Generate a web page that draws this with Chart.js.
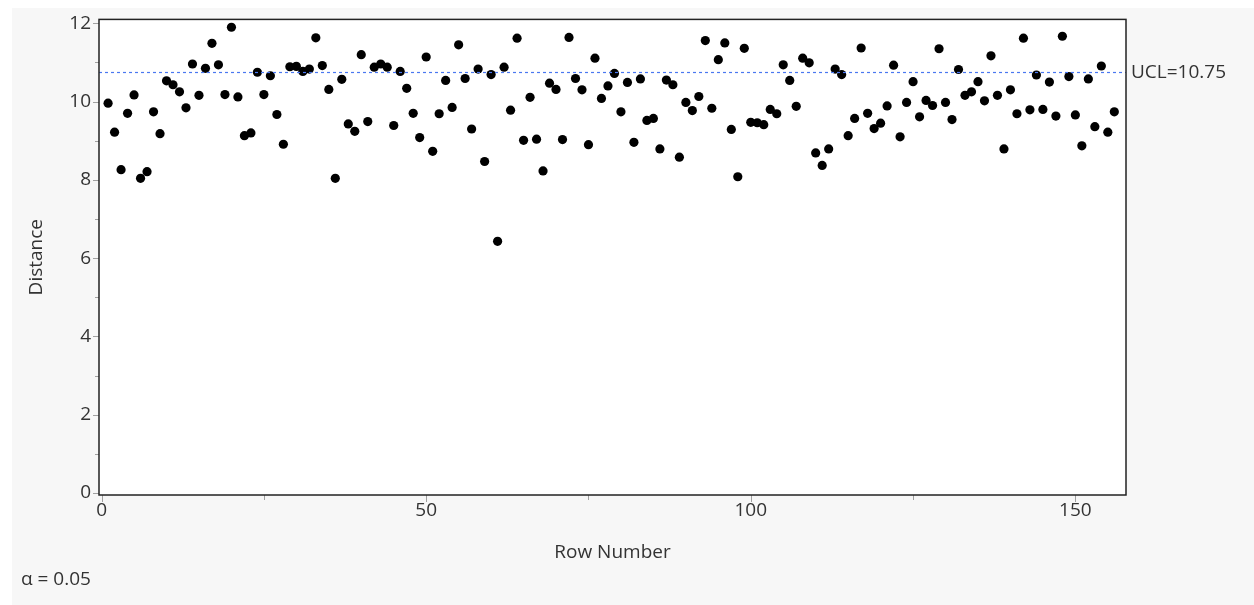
<!DOCTYPE html>
<html>
<head>
<meta charset="utf-8">
<script src="https://cdn.jsdelivr.net/npm/chart.js@4/dist/chart.umd.min.js"></script>
<style>
  body { margin: 0; background: #ffffff; }
  #chart { display: block; }
</style>
</head>
<body>
<canvas id="chart" width="1254" height="605"></canvas>
<script>
// distance by row number (rows 1..156)
let distance = [
  9.96, 9.22, 8.26, 9.70, 10.17, 8.04, 8.21, 9.74, 9.18, 10.53,
  10.43, 10.25, 9.84, 10.96, 10.16, 10.85, 11.49, 10.94, 10.18, 11.90,
  10.12, 9.13, 9.20, 10.75, 10.18, 10.66, 9.67, 8.91, 10.89, 10.90,
  10.77, 10.83, 11.63, 10.92, 10.31, 8.04, 10.57, 9.43, 9.24, 11.20,
  9.49, 10.88, 10.96, 10.88, 9.39, 10.77, 10.34, 9.70, 9.08, 11.14,
  8.73, 9.69, 10.54, 9.85, 11.45, 10.59, 9.30, 10.83, 8.47, 10.69,
  6.43, 10.88, 9.78, 11.62, 9.01, 10.11, 9.04, 8.23, 10.47, 10.31,
  9.03, 11.64, 10.59, 10.30, 8.90, 11.11, 10.08, 10.40, 10.72, 9.74,
  10.49, 8.96, 10.58, 9.52, 9.57, 8.79, 10.55, 10.43, 8.58, 9.98,
  9.77, 10.13, 11.56, 9.83, 11.07, 11.50, 9.29, 8.08, 11.36, 9.47,
  9.46, 9.41, 9.80, 9.69, 10.94, 10.54, 9.88, 11.11, 10.99, 8.69,
  8.37, 8.79, 10.83, 10.69, 9.13, 9.57, 11.37, 9.70, 9.31, 9.45,
  9.89, 10.93, 9.10, 9.98, 10.51, 9.61, 10.03, 9.90, 11.35, 9.98,
  9.54, 10.82, 10.16, 10.25, 10.51, 10.02, 11.17, 10.16, 8.79, 10.30,
  9.69, 11.62, 9.79, 10.68, 9.80, 10.50, 9.63, 11.67, 10.64, 9.66,
  8.87, 10.58, 9.36, 10.91, 9.22, 9.74
];
let ucl = 10.75;
let alpha = "α = 0.05";

let xMajor = [0, 50, 100, 150];
let xMinor = [25, 75, 125];
let yMajor = [0, 2, 4, 6, 8, 10, 12];
let yMinor = [1, 3, 5, 7, 9, 11];

let points = distance.map((d, i) => ({ x: i + 1, y: d }));

let fontFamily = "'Open Sans', 'Noto Sans', sans-serif";
let fontSize = 19;

// gray panel, white plot area, frame, tick marks, UCL line and labels
let jmpLook = {
  id: "jmpLook",
  beforeDraw(chart) {
    let ctx = chart.ctx;
    let a = chart.chartArea;
    ctx.save();
    ctx.fillStyle = "#f7f7f7";
    ctx.fillRect(12, 8, chart.width - 12, chart.height - 8);
    ctx.fillStyle = "#ffffff";
    ctx.fillRect(a.left, a.top, a.right - a.left, a.bottom - a.top);
    ctx.restore();
  },
  afterDatasetsDraw(chart) {
    let ctx = chart.ctx;
    let a = chart.chartArea;
    let xs = chart.scales.x;
    let ys = chart.scales.y;
    ctx.save();

    // UCL line
    let py = Math.round(ys.getPixelForValue(ucl)) + 0.5;
    ctx.strokeStyle = "#4a78f0";
    ctx.lineWidth = 1.2;
    ctx.setLineDash([3, 3]);
    ctx.beginPath();
    ctx.moveTo(a.left, py);
    ctx.lineTo(a.right, py);
    ctx.stroke();
    ctx.setLineDash([]);

    // tick marks
    ctx.strokeStyle = "#a0a0a0";
    ctx.lineWidth = 1;
    yMajor.concat(yMinor).forEach(v => {
      let len = yMajor.includes(v) ? 6 : 4;
      let y = Math.round(ys.getPixelForValue(v)) + 0.5;
      ctx.beginPath();
      ctx.moveTo(a.left - len, y);
      ctx.lineTo(a.left, y);
      ctx.stroke();
    });
    xMajor.concat(xMinor).forEach(v => {
      let len = xMajor.includes(v) ? 7 : 5;
      let x = Math.round(xs.getPixelForValue(v)) + 0.5;
      ctx.beginPath();
      ctx.moveTo(x, a.bottom);
      ctx.lineTo(x, a.bottom + len);
      ctx.stroke();
    });

    // frame
    ctx.strokeStyle = "#222222";
    ctx.lineWidth = 1.5;
    ctx.strokeRect(a.left, a.top, a.right - a.left, a.bottom - a.top);

    // texts
    ctx.fillStyle = "#333333";
    ctx.font = fontSize + "px " + fontFamily;
    ctx.textBaseline = "middle";
    ctx.textAlign = "left";
    ctx.fillText("UCL=" + ucl, a.right + 5, py);
    ctx.fillText(alpha, 21, 580);
    ctx.restore();
  }
};

new Chart(document.getElementById("chart"), {
  type: "scatter",
  data: {
    datasets: [{
      label: "Distance",
      data: points,
      backgroundColor: "#000000",
      borderWidth: 0,
      pointRadius: 4.6,
      pointHoverRadius: 4.6
    }]
  },
  options: {
    responsive: false,
    animation: false,
    events: [],
    layout: { padding: { left: 12, top: 19, right: 128, bottom: 40 } },
    plugins: {
      legend: { display: false },
      tooltip: { enabled: false }
    },
    scales: {
      x: {
        type: "linear",
        min: -0.4,
        max: 157.8,
        afterFit: s => { s.height = 70; },
        afterBuildTicks: s => { s.ticks = xMajor.map(v => ({ value: v })); },
        grid: { display: false, drawTicks: false },
        border: { display: false },
        ticks: { padding: 4, color: "#333333", font: { family: fontFamily, size: fontSize } },
        title: {
          display: true,
          text: "Row Number",
          color: "#333333",
          font: { family: fontFamily, size: fontSize },
          padding: { top: 0, bottom: 1 }
        }
      },
      y: {
        min: -0.05,
        max: 12.1,
        afterFit: s => { s.width = 87; },
        afterBuildTicks: s => { s.ticks = yMajor.map(v => ({ value: v })); },
        grid: { display: false, drawTicks: false },
        border: { display: false },
        ticks: { padding: 8, color: "#333333", font: { family: fontFamily, size: fontSize } },
        title: {
          display: true,
          text: "Distance",
          color: "#333333",
          font: { family: fontFamily, size: fontSize },
          padding: { top: 13, bottom: 0 }
        }
      }
    }
  },
  plugins: [jmpLook]
});
</script>
</body>
</html>
